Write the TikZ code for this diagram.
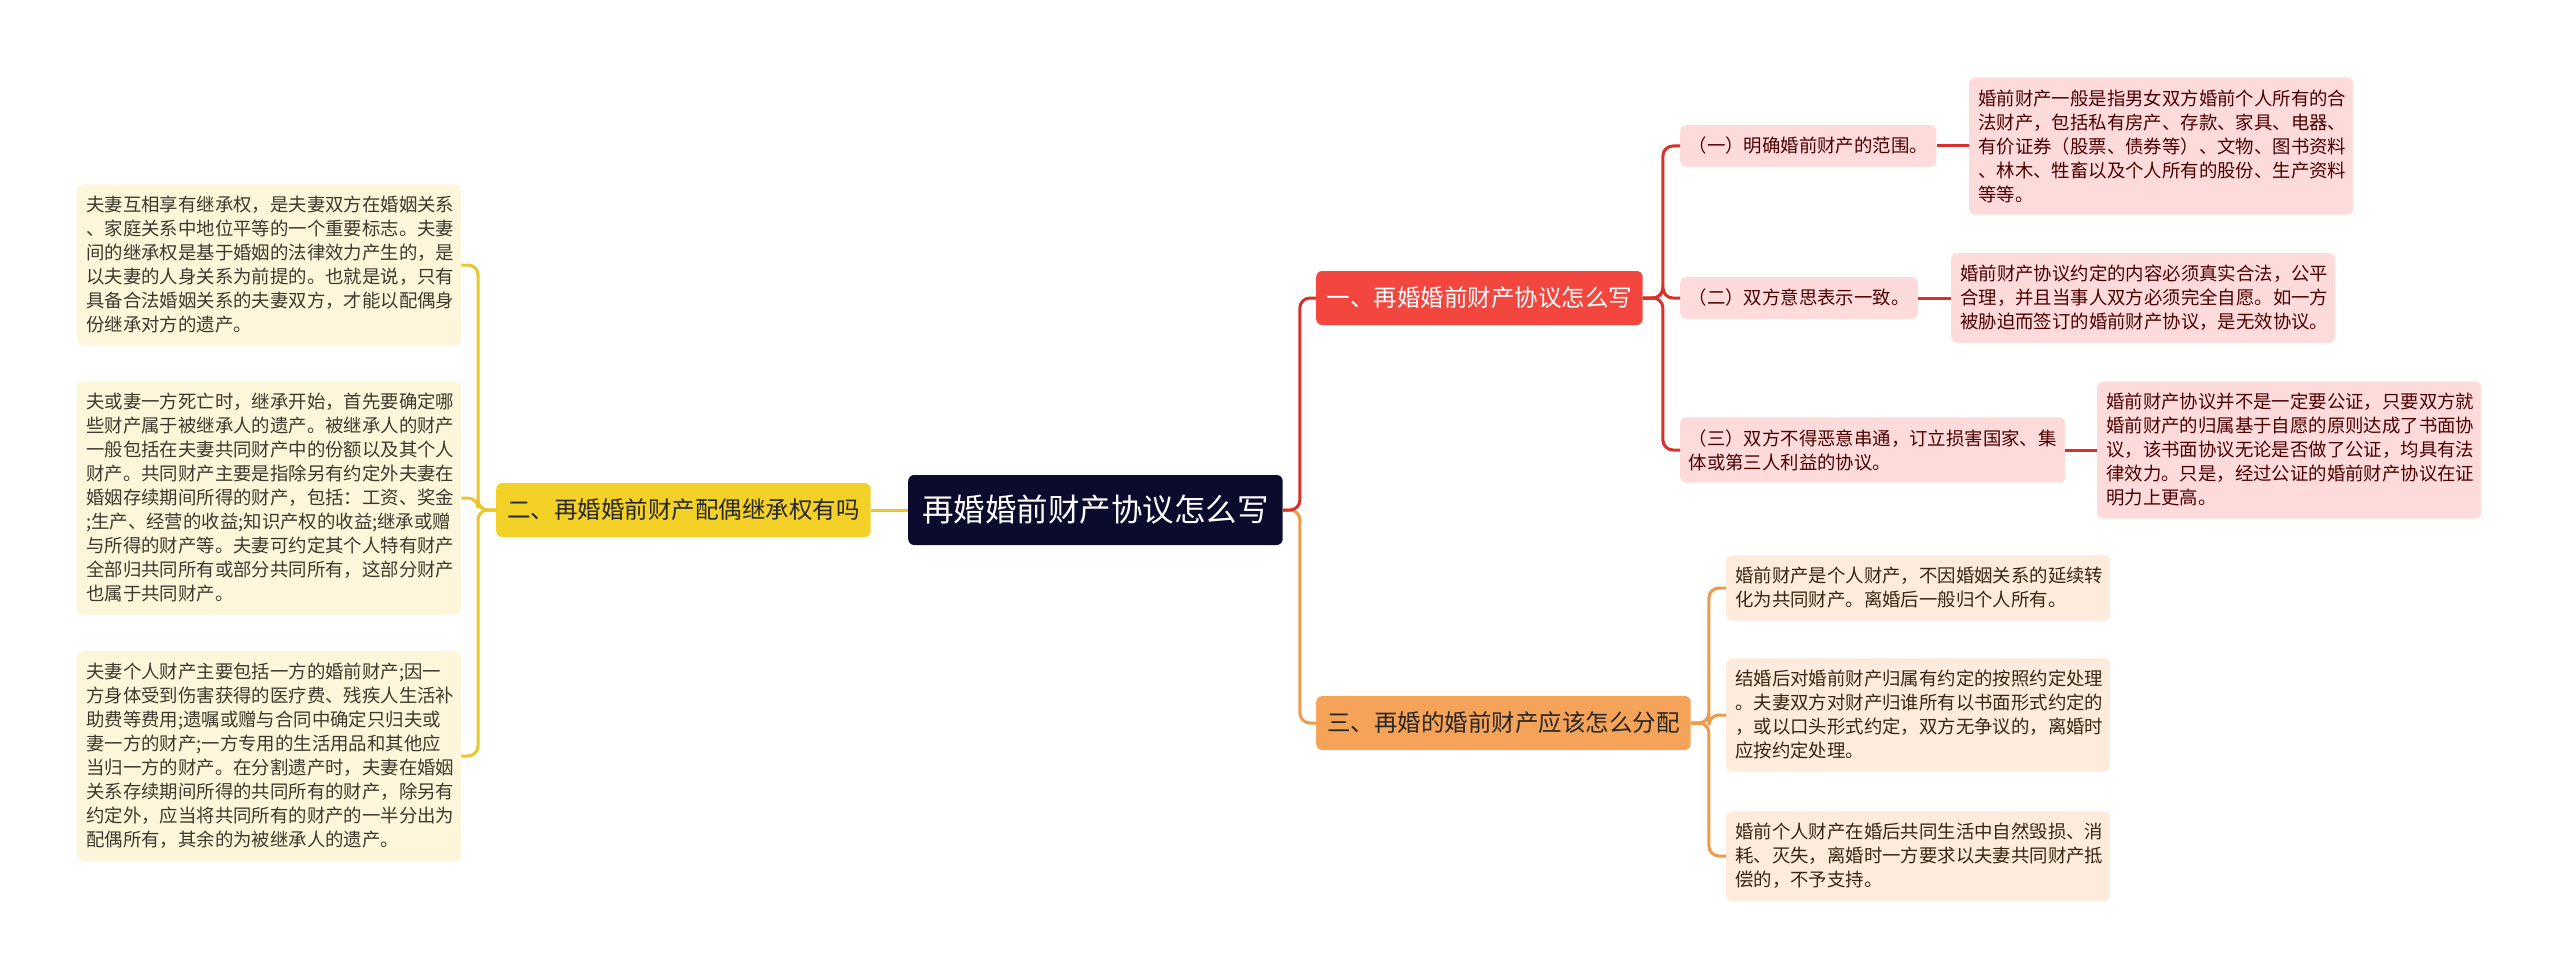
\documentclass[tikz,border=0pt]{standalone}
\usepackage{fontspec}
\setmainfont{Noto Sans CJK SC}
\usepackage{xcolor}
\definecolor{cRoot}{HTML}{0B0B2D}
\definecolor{cYellow}{HTML}{F4D126}
\definecolor{cYellowLine}{HTML}{E9C62B}
\definecolor{cYellowLeaf}{HTML}{FDF6DA}
\definecolor{cRed}{HTML}{F2463E}
\definecolor{cRedLine}{HTML}{D8302A}
\definecolor{cPink}{HTML}{FDDBDB}
\definecolor{cOrange}{HTML}{F4A359}
\definecolor{cOrangeLine}{HTML}{EE9A4C}
\definecolor{cPeach}{HTML}{FDEBDB}
\usepackage{tikz}
\usetikzlibrary{positioning,calc}
\tikzset{
  node-base/.style={rounded corners=6pt,anchor=west,align=left,inner ysep=12pt},
  node-root/.style={node-base,fill=cRoot,text=white,minimum height=70pt,
    inner xsep=14pt,font=\fontsize{31.5}{36}\selectfont},
  node-branch/.style={node-base,minimum height=54pt,inner xsep=11pt,
    font=\fontsize{23.5}{28}\selectfont},
  node-leaf/.style={node-base,inner xsep=9pt,text width=366pt,
    font=\fontsize{18.4}{24}\selectfont},
  node-sub/.style={node-base,inner xsep=8.5pt,font=\fontsize{18.4}{24}\selectfont},
  % 三个分支各用一种颜色：黄 / 红 / 橙
  node-yellow/.style={fill=cYellow,text=black!85},
  node-red/.style={fill=cRed,text=white},
  node-orange/.style={fill=cOrange,text=black!85},
  leaf-yellow/.style={fill=cYellowLeaf,text=black!75!olive},
  leaf-pink/.style={fill=cPink,text=black!70!red},
  leaf-peach/.style={fill=cPeach,text=black!70!brown},
  link-yellow/.style={line width=3pt,draw=cYellowLine,rounded corners=10pt},
  link-red/.style={line width=3pt,draw=cRedLine,rounded corners=10pt},
  link-orange/.style={line width=3pt,draw=cOrangeLine,rounded corners=10pt},
}
\begin{document}
\begin{tikzpicture}[x=1pt,y=-1pt]
  \useasboundingbox (0,0) rectangle (2560,979);
  \node[node-root] at (908,510) (root) {再婚婚前财产协议怎么写};
  % 左侧
  \node[node-branch,node-yellow] at (496,510) (b2) {二、再婚婚前财产配偶继承权有吗};
  \node[node-leaf,leaf-yellow] at (77,265) (y1) {夫妻互相享有继承权，是夫妻双方在婚姻关系\\、家庭关系中地位平等的一个重要标志。夫妻\\间的继承权是基于婚姻的法律效力产生的，是\\以夫妻的人身关系为前提的。也就是说，只有\\具备合法婚姻关系的夫妻双方，才能以配偶身\\份继承对方的遗产。};
  \node[node-leaf,leaf-yellow] at (77,498) (y2) {夫或妻一方死亡时，继承开始，首先要确定哪\\些财产属于被继承人的遗产。被继承人的财产\\一般包括在夫妻共同财产中的份额以及其个人\\财产。共同财产主要是指除另有约定外夫妻在\\婚姻存续期间所得的财产，包括：工资、奖金\\;生产、经营的收益;知识产权的收益;继承或赠\\与所得的财产等。夫妻可约定其个人特有财产\\全部归共同所有或部分共同所有，这部分财产\\也属于共同财产。};
  \node[node-leaf,leaf-yellow] at (77,756) (y3) {夫妻个人财产主要包括一方的婚前财产;因一\\方身体受到伤害获得的医疗费、残疾人生活补\\助费等费用;遗嘱或赠与合同中确定只归夫或\\妻一方的财产;一方专用的生活用品和其他应\\当归一方的财产。在分割遗产时，夫妻在婚姻\\关系存续期间所得的共同所有的财产，除另有\\约定外，应当将共同所有的财产的一半分出为\\配偶所有，其余的为被继承人的遗产。};
  % 右侧 一
  \node[node-branch,node-red,inner xsep=10.5pt] at (1316,298) (b1) {一、再婚婚前财产协议怎么写};
  \node[node-sub,leaf-pink] at (1680,146) (s1) {（一）明确婚前财产的范围。};
  \node[node-sub,leaf-pink] at (1680,298) (s2) {（二）双方意思表示一致。};
  \node[node-sub,leaf-pink] at (1680,450) (s3) {（三）双方不得恶意串通，订立损害国家、集\\体或第三人利益的协议。};
  \node[node-leaf,leaf-pink] at (1969,146) (r1) {婚前财产一般是指男女双方婚前个人所有的合\\法财产，包括私有房产、存款、家具、电器、\\有价证券（股票、债券等）、文物、图书资料\\、林木、牲畜以及个人所有的股份、生产资料\\等等。};
  \node[node-leaf,leaf-pink] at (1951,298) (r2) {婚前财产协议约定的内容必须真实合法，公平\\合理，并且当事人双方必须完全自愿。如一方\\被胁迫而签订的婚前财产协议，是无效协议。};
  \node[node-leaf,leaf-pink] at (2097,450) (r3) {婚前财产协议并不是一定要公证，只要双方就\\婚前财产的归属基于自愿的原则达成了书面协\\议，该书面协议无论是否做了公证，均具有法\\律效力。只是，经过公证的婚前财产协议在证\\明力上更高。};
  % 右侧 三
  \node[node-branch,node-orange] at (1316,723) (b3) {三、再婚的婚前财产应该怎么分配};
  \node[node-leaf,leaf-peach] at (1726,588) (o1) {婚前财产是个人财产，不因婚姻关系的延续转\\化为共同财产。离婚后一般归个人所有。};
  \node[node-leaf,leaf-peach] at (1726,715) (o2) {结婚后对婚前财产归属有约定的按照约定处理\\。夫妻双方对财产归谁所有以书面形式约定的\\，或以口头形式约定，双方无争议的，离婚时\\应按约定处理。};
  \node[node-leaf,leaf-peach] at (1726,856) (o3) {婚前个人财产在婚后共同生活中自然毁损、消\\耗、灭失，离婚时一方要求以夫妻共同财产抵\\偿的，不予支持。};

  \draw[link-yellow] (root.west) -- (b2.east);
  \foreach \leaf in {y1,y2,y3}
    \draw[link-yellow] (b2.west) -- ++(-18,0) |- (\leaf.east);
  \draw[link-orange] (root.east) -- ++(17,0) |- (b3.west);
  \draw[link-red] (root.east) -- ++(17,0) |- (b1.west);
  \foreach \sub in {s1,s2,s3}
    \draw[link-red] (b1.east) -- ++(20,0) |- (\sub.west);
  \draw[link-red] (s1.east) -- (r1.west);
  \draw[link-red] (s2.east) -- (r2.west);
  \draw[link-red] (s3.east) -- (r3.west);
  \foreach \leaf in {o1,o2,o3}
    \draw[link-orange] (b3.east) -- ++(18,0) |- (\leaf.west);
\end{tikzpicture}
\end{document}
